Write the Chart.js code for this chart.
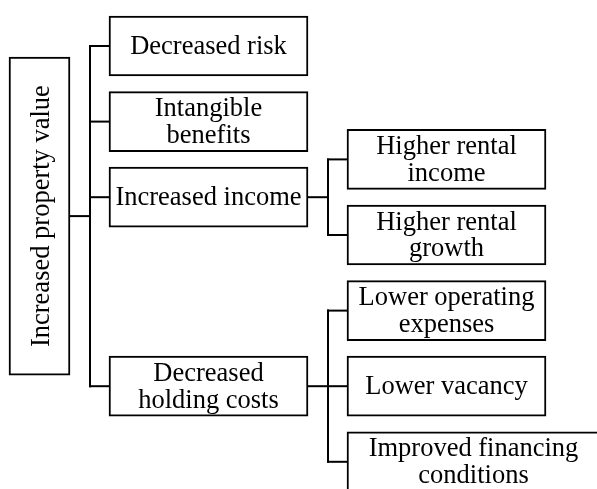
<!DOCTYPE html>
<html>
<head>
<meta charset="utf-8">
<script src="https://cdn.jsdelivr.net/npm/chart.js@4.4.1/dist/chart.umd.min.js"></script>
<style>
  html, body { margin: 0; padding: 0; background: #fff; }
  #wrap { width: 597px; height: 489px; position: relative; }
</style>
</head>
<body>
<div id="wrap"><canvas id="tree"></canvas></div>
<script>
// tree.js - drivers of increased property value, drawn as a Chart.js mixed bar/line chart
// Boxes are floating horizontal bars, connectors are line datasets.

// ------------------------------------------------------------
// Data: node labels (one array of lines per box)
// ------------------------------------------------------------
var rootLabel = ['Increased property value'];
var branchLabels = [
  ['Decreased risk'],
  ['Intangible', 'benefits'],
  ['Increased income'],
  ['Decreased', 'holding costs']
];
var leafLabels = [
  [],
  [],
  [['Higher rental', 'income'], ['Higher rental', 'growth']],
  [['Lower operating', 'expenses'], ['Lower vacancy'], ['Improved financing', 'conditions']]
];

// ------------------------------------------------------------
// Layout: x in page px units, y in rows
// ------------------------------------------------------------
var W = 597, H = 489;
var ROW_TOP = 46, ROW_PX = 75.6;
var ROOT_X = [9, 70], TRUNK_X = 90, BRANCH_X = [109, 308], TWIG_X = 328, LEAF_X = [347, 546];
var WIDE_RIGHT = 600;   // leaf box that overflows the page on the right
var BOX_H = 60, ROOT_H = 318;
var FONT = '26.5px "Liberation Serif", "Times New Roman", serif';
var LINE_H = 26.7, BASE_SHIFT = 8;

// text width, to widen a leaf box whose label does not fit
var measure = document.createElement('canvas').getContext('2d');
measure.font = FONT;
function widest(lines) {
  return Math.max.apply(null, lines.map(function (t) { return measure.measureText(t).width; }));
}

// children centred on their parent, one row apart, never overlapping
var branchRows = [], leafRows = [];
var prevRow = -1, nextLeaf = -Infinity;
branchLabels.forEach(function (lab, i) {
  var n = leafLabels[i].length;
  var row = prevRow + 1;
  if (n) row = Math.max(row, nextLeaf + (n - 1) / 2);
  branchRows.push(row);
  var rows = [];
  for (var k = 0; k < n; k++) rows.push(row - (n - 1) / 2 + k);
  if (n) nextLeaf = rows[n - 1] + 1;
  leafRows.push(rows);
  prevRow = row;
});
var rootRow = (branchRows[0] + branchRows[branchRows.length - 1]) / 2;

// boxes
var boxData = [], boxText = [];
branchLabels.forEach(function (lab, i) {
  boxData.push({ x: BRANCH_X, y: branchRows[i] });
  boxText.push(lab);
});
leafLabels.forEach(function (group, i) {
  group.forEach(function (lab, k) {
    var fits = widest(lab) < (LEAF_X[1] - LEAF_X[0]) - 4;
    boxData.push({ x: fits ? LEAF_X : [LEAF_X[0], WIDE_RIGHT], y: leafRows[i][k] });
    boxText.push(lab);
  });
});

// connectors
var segments = [];
segments.push([[ROOT_X[1], rootRow], [TRUNK_X, rootRow]]);
segments.push([[TRUNK_X, branchRows[0]], [TRUNK_X, branchRows[branchRows.length - 1]]]);
branchRows.forEach(function (r, i) {
  segments.push([[TRUNK_X, r], [BRANCH_X[0], r]]);
  var rows = leafRows[i];
  if (!rows.length) return;
  segments.push([[BRANCH_X[1], r], [TWIG_X, r]]);
  segments.push([[TWIG_X, rows[0]], [TWIG_X, rows[rows.length - 1]]]);
  rows.forEach(function (cr) {
    segments.push([[TWIG_X, cr], [LEAF_X[0], cr]]);
  });
});

var boxStyle = {
  type: 'bar',
  indexAxis: 'y',
  grouped: false,
  backgroundColor: '#ffffff',
  borderColor: '#000000',
  borderWidth: 2,
  borderSkipped: false
};

var datasets = [
  Object.assign({ label: 'boxes', data: boxData, barThickness: BOX_H }, boxStyle),
  Object.assign({ label: 'root', data: [{ x: ROOT_X, y: rootRow }], barThickness: ROOT_H }, boxStyle)
];
segments.forEach(function (seg) {
  datasets.push({
    type: 'line',
    data: seg.map(function (p) { return { x: p[0], y: p[1] }; }),
    borderColor: '#000000',
    borderWidth: 2,
    borderCapStyle: 'square',
    pointRadius: 0,
    pointHoverRadius: 0,
    tension: 0,
    fill: false
  });
});

// labels inside the boxes
var boxLabels = {
  id: 'boxLabels',
  afterDatasetsDraw: function (chart) {
    var ctx = chart.ctx;
    ctx.save();
    ctx.font = FONT;
    ctx.fillStyle = '#000000';
    ctx.textAlign = 'center';
    ctx.textBaseline = 'alphabetic';

    chart.getDatasetMeta(0).data.forEach(function (bar, i) {
      var lines = boxText[i];
      var cx = (bar.x + bar.base) / 2;
      lines.forEach(function (t, k) {
        ctx.fillText(t, cx, bar.y + BASE_SHIFT + (k - (lines.length - 1) / 2) * LINE_H);
      });
    });

    // root label runs bottom to top
    var rb = chart.getDatasetMeta(1).data[0];
    ctx.translate((rb.x + rb.base) / 2, rb.y);
    ctx.rotate(-Math.PI / 2);
    ctx.fillText(rootLabel[0], 0, BASE_SHIFT + 1);
    ctx.restore();
  }
};

new Chart(document.getElementById('tree'), {
  type: 'bar',
  data: { datasets: datasets },
  options: {
    responsive: true,
    maintainAspectRatio: false,
    animation: false,
    events: [],
    layout: { padding: 0, autoPadding: false },
    plugins: {
      legend: { display: false },
      tooltip: { enabled: false }
    },
    scales: {
      x: { type: 'linear', min: 0, max: W, display: false, offset: false },
      y: {
        type: 'linear',
        reverse: true,
        offset: false,
        min: -ROW_TOP / ROW_PX,
        max: (H - ROW_TOP) / ROW_PX,
        display: false
      }
    }
  },
  plugins: [boxLabels]
});
</script>
</body>
</html>
